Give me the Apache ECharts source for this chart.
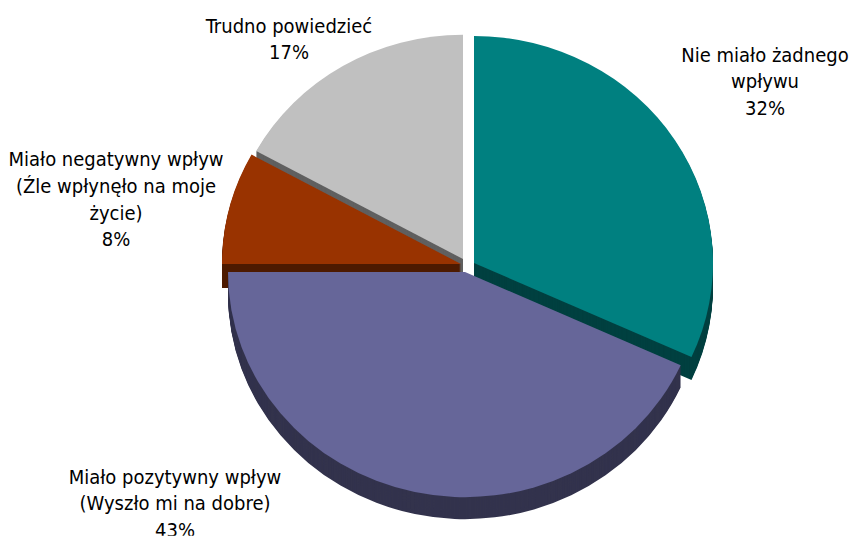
<!DOCTYPE html>
<html><head><meta charset="utf-8">
<script src="https://cdn.jsdelivr.net/npm/echarts@6/dist/echarts.min.js"></script>
<style>
html,body{margin:0;padding:0;width:850px;height:536px;overflow:hidden;background:#fff}
#c{width:850px;height:564px;transform:scaleY(.95);transform-origin:0 0}
</style></head><body><div id="c"></div>
<script>
const categories = ["Nie miało żadnego\nwpływu","Miało pozytywny wpływ\n(Wyszło mi na dobre)","Miało negatywny wpływ\n(Źle wpłynęło na moje\nżycie)","Trudno powiedzieć"];
const values = [31.8,43.2,8,17];
const topColors = ["#008080","#666699","#993300","#C0C0C0"];
const sideColors = ["#004040","#33334D","#4D1A00","#606060"];
// exploded apex of each slice, px on the picture
const apexX = [474,465,461,463];
const apexY = [263,272,264,259];
const radii = [239,237,239,236];
const depths = [23,22,24,23];
const labelX = [765,175,116,289];
const labelY = [82,504,200,39.5];
const drawOrder = [3,2,0,1];
const SY = 0.95;

const sliceData = (show, color) => values.map((v,i)=>({
  value:v, name:categories[i],
  itemStyle:{color:i===show?color:'transparent'}
}));
const base = {type:'pie',startAngle:90,clockwise:true,silent:true,animation:false,
  label:{show:false},labelLine:{show:false},avoidLabelOverlap:false,emphasis:{disabled:true}};
const series = [];
drawOrder.forEach(i=>{
  for(let d=depths[i];d>=1;d--){
    series.push({...base,radius:[0,radii[i]],center:[apexX[i],(apexY[i]+d)/SY],data:sliceData(i,sideColors[i])});
  }
  series.push({...base,radius:[0,radii[i]],center:[apexX[i],apexY[i]/SY],data:sliceData(i,topColors[i])});
});
// labels: an invisible pie holding the percent texts
series.push({...base,radius:[0,238],center:[465,265/SY],percentPrecision:0,
  data:values.map((v,i)=>({value:v,name:categories[i],itemStyle:{color:'transparent'}})),
  label:{show:true,position:'outside',formatter:'{b}\n{d}%',color:'#000',
    fontFamily:'"DejaVu Sans Condensed","Noto Sans",sans-serif',fontSize:20,lineHeight:28,align:'center',verticalAlign:'middle'},
  labelLayout:p=>({x:labelX[p.dataIndex],y:labelY[p.dataIndex]/SY,align:'center',verticalAlign:'middle',hideOverlap:false})
});
const chart = echarts.init(document.getElementById('c'),null,{renderer:'svg'});
chart.setOption({animation:false,backgroundColor:'#fff',series});
</script></body></html>
